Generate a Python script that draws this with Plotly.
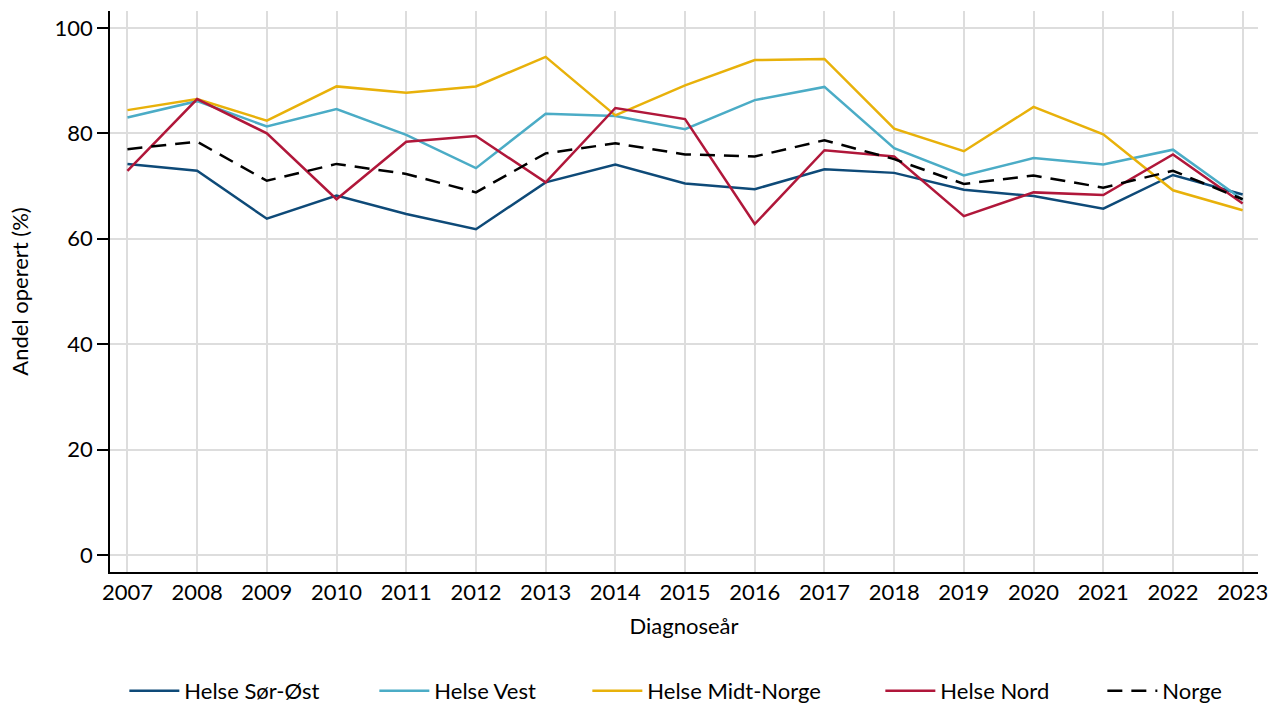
import plotly.graph_objects as go

years = list(range(2007, 2024))
sor_ost = [74.2, 72.9, 63.8, 68.2, 64.7, 61.8, 70.7, 74.1, 70.5, 69.4, 73.2, 72.5, 69.3, 68.1, 65.7, 72.1, 68.4]
vest = [83.0, 86.1, 81.3, 84.6, 79.7, 73.4, 83.7, 83.3, 80.8, 86.3, 88.8, 77.2, 72.0, 75.3, 74.1, 76.9, 67.4]
midt = [84.4, 86.5, 82.4, 88.9, 87.7, 88.9, 94.5, 83.4, 89.1, 93.9, 94.1, 80.9, 76.6, 85.0, 79.8, 69.2, 65.4]
nord = [72.9, 86.5, 80.0, 67.5, 78.4, 79.5, 70.7, 84.8, 82.7, 62.8, 76.8, 75.6, 64.3, 68.8, 68.3, 76.0, 66.7]
norge = [77.0, 78.4, 71.0, 74.2, 72.3, 68.8, 76.2, 78.1, 76.0, 75.6, 78.7, 75.1, 70.4, 72.0, 69.7, 72.9, 67.5]

series = [
    ("Helse Sør-Øst", sor_ost, "#0E4A78", "solid", 185),
    ("Helse Vest", vest, "#4BACC6", "solid", 148),
    ("Helse Midt-Norge", midt, "#E8B10A", "solid", 228),
    ("Helse Nord", nord, "#B0173A", "solid", 157),
    ("Norge", norge, "#000000", "15px,9px", 70),
]

fig = go.Figure()
for name, vals, color, dash, lw in series:
    fig.add_trace(go.Scatter(x=years, y=vals, name=name, mode="lines",
                             line=dict(color=color, width=2.5, dash=dash),
                             legendwidth=lw))

font = "Lato, 'Noto Sans', sans-serif"
fig.update_layout(
    width=1269, height=704,
    margin=dict(l=110, r=11, t=11, b=132, autoexpand=False),
    paper_bgcolor="white", plot_bgcolor="white",
    font=dict(family=font, size=22, color="black"),
    showlegend=True,
    legend=dict(orientation="h", x=0.0125, xanchor="left", y=-0.2121, yanchor="middle",
                font=dict(size=22), itemwidth=50, traceorder="normal"),
    xaxis=dict(range=[2006.75, 2023.22], tickmode="array", tickvals=years,
               ticktext=[str(y) for y in years], ticklabeloverflow="allow",
               showgrid=True, gridcolor="#DDDDDD", gridwidth=1.5,
               showline=True, linecolor="black", linewidth=1.5,
               ticks="", zeroline=False,
               title=dict(text="Diagnoseår", font=dict(size=22), standoff=14)),
    yaxis=dict(range=[-3.2, 103.2], tickvals=[0, 20, 40, 60, 80, 100],
               showgrid=True, gridcolor="#DDDDDD", gridwidth=1.5,
               showline=True, linecolor="black", linewidth=1.5,
               ticks="outside", ticklen=11, tickcolor="black", tickwidth=1.5,
               zeroline=False,
               title=dict(text="Andel operert (%)", font=dict(size=22), standoff=20)),
)

fig.write_html("out.html", config={"displayModeBar": False},
               post_script="document.body.style.margin='0';document.body.style.overflow='hidden';")
